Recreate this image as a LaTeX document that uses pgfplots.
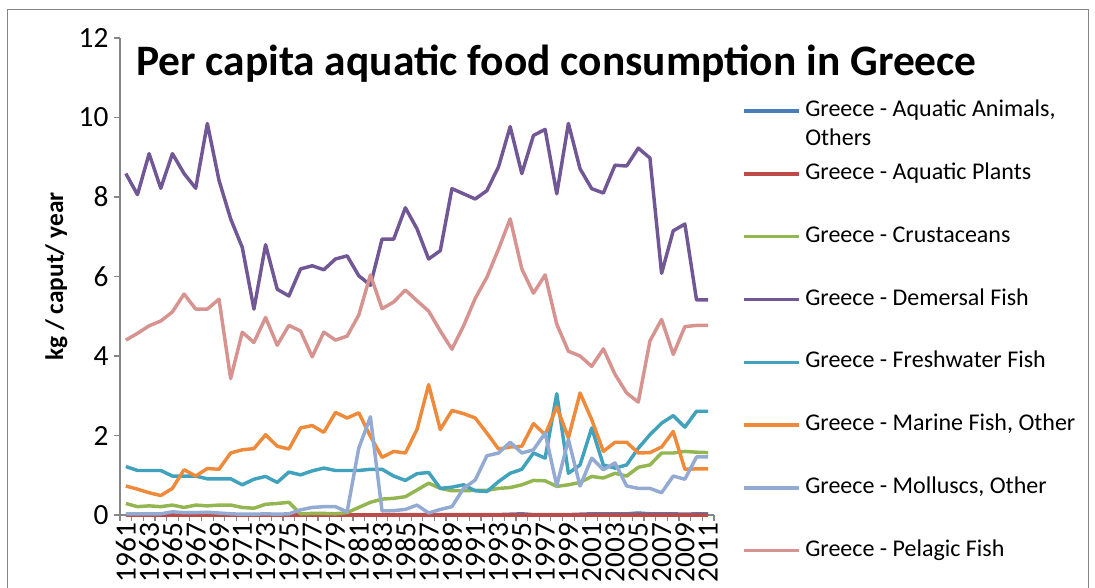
\documentclass[border=0pt]{standalone}
\usepackage{fontspec}
\setmainfont{Carlito}
\usepackage{pgfplots}
\usepackage{pgfplotstable}
\pgfplotsset{compat=1.18}

\definecolor{cAnim}{HTML}{4A7EBB}
\definecolor{cPlant}{HTML}{BE4B48}
\definecolor{cCrust}{HTML}{93B651}
\definecolor{cDem}{HTML}{715796}
\definecolor{cFresh}{HTML}{40A2BD}
\definecolor{cMarine}{HTML}{EE8A3A}
\definecolor{cMoll}{HTML}{93AAD3}
\definecolor{cPel}{HTML}{D69390}
\definecolor{axgray}{HTML}{868686}

% kg / caput / year
\pgfplotstableread{
year anim plant crust dem fresh marine moll pel
1961 0    0 0.29 8.59 1.22 0.73 0.03 4.40
1962 0    0 0.21 8.06 1.12 0.65 0.03 4.57
1963 0    0 0.23 9.09 1.12 0.56 0.03 4.76
1964 0    0 0.21 8.22 1.12 0.49 0.03 4.88
1965 0    0 0.25 9.09 0.98 0.67 0.08 5.11
1966 0    0 0.19 8.59 0.98 1.14 0.06 5.56
1967 0    0 0.25 8.22 0.98 0.98 0.06 5.18
1968 0    0 0.23 9.85 0.91 1.17 0.07 5.18
1969 0    0 0.25 8.42 0.91 1.15 0.05 5.43
1970 0    0 0.25 7.45 0.91 1.56 0.03 3.43
1971 0    0 0.19 6.73 0.76 1.64 0.02 4.60
1972 0    0 0.17 5.18 0.90 1.67 0.02 4.34
1973 0    0 0.27 6.80 0.97 2.02 0.03 4.97
1974 0    0 0.29 5.68 0.82 1.73 0.02 4.27
1975 0    0 0.32 5.51 1.08 1.66 0.03 4.77
1976 0    0 0.03 6.19 1.01 2.19 0.13 4.63
1977 0    0 0.04 6.27 1.11 2.25 0.19 3.98
1978 0    0 0.04 6.17 1.18 2.08 0.21 4.60
1979 0    0 0.03 6.44 1.12 2.58 0.21 4.40
1980 0    0 0.06 6.52 1.12 2.44 0.08 4.50
1981 0    0 0.19 6.02 1.12 2.57 1.68 5.03
1982 0    0 0.32 5.78 1.15 1.98 2.47 6.04
1983 0    0 0.40 6.94 1.15 1.45 0.10 5.19
1984 0.01 0 0.42 6.94 0.98 1.60 0.11 5.36
1985 0.01 0 0.46 7.73 0.87 1.56 0.14 5.66
1986 0.01 0 0.63 7.20 1.04 2.15 0.25 5.39
1987 0.01 0 0.80 6.44 1.07 3.28 0.05 5.13
1988 0.01 0 0.67 6.65 0.67 2.15 0.14 4.63
1989 0.01 0 0.61 8.21 0.70 2.63 0.21 4.17
1990 0.01 0 0.61 8.08 0.76 2.55 0.67 4.76
1991 0.01 0 0.62 7.95 0.61 2.44 0.88 5.45
1992 0.01 0 0.62 8.16 0.59 2.06 1.49 5.98
1993 0.01 0 0.67 8.76 0.84 1.66 1.56 6.69
1994 0.02 0 0.69 9.77 1.05 1.71 1.83 7.45
1995 0.03 0 0.76 8.59 1.15 1.73 1.56 6.19
1996 0.01 0 0.87 9.55 1.56 2.30 1.64 5.58
1997 0.01 0 0.86 9.70 1.43 2.02 2.06 6.04
1998 0.01 0 0.72 8.08 3.05 2.72 0.74 4.80
1999 0.01 0 0.76 9.85 1.05 1.94 1.90 4.12
2000 0.02 0 0.82 8.71 1.26 3.07 0.73 4.00
2001 0.03 0 0.97 8.21 2.19 2.40 1.43 3.74
2002 0.03 0 0.93 8.10 1.26 1.60 1.14 4.18
2003 0.03 0 1.05 8.80 1.18 1.83 1.31 3.54
2004 0.03 0 0.98 8.78 1.26 1.83 0.73 3.07
2005 0.05 0 1.20 9.23 1.68 1.56 0.67 2.84
2006 0.03 0 1.26 8.98 2.02 1.57 0.67 4.38
2007 0.03 0 1.56 6.08 2.31 1.71 0.56 4.92
2008 0.03 0 1.56 7.15 2.50 2.10 0.98 4.04
2009 0.02 0 1.60 7.32 2.21 1.15 0.90 4.74
2010 0.03 0 1.58 5.41 2.61 1.16 1.46 4.77
2011 0.03 0 1.57 5.41 2.61 1.16 1.46 4.77
}\fishdata

\begin{document}
\begin{tikzpicture}
\path[use as bounding box] (0,0) rectangle (821.25pt,440.25pt);
\draw[axgray, line width=0.75pt] (5.25pt,-5pt) rectangle (816pt,432.75pt);

\node[anchor=base west, font=\bfseries\fontsize{32.6}{36}\selectfont] at (98.5pt,384pt)
  {Per capita aquatic food consumption in Greece};

\begin{axis}[
  at={(90pt,54pt)}, anchor=south west,
  width=445.5pt, height=357.75pt, scale only axis,
  xmin=1960.5, xmax=2011.5, ymin=0, ymax=12,
  axis x line*=bottom, axis y line*=left,
  axis line style={axgray, line width=0.9pt, -},
  tick style={axgray, line width=0.9pt},
  tick align=outside,
  xtick={1961,1963,...,2011},
  minor xtick={1960.5,1961.5,...,2011.5},
  major x tick style={draw=none},
  minor tick length=4.5pt,
  ytick={0,2,...,12},
  major tick length=4.5pt,
  ticklabel style={font=\fontsize{22}{24}\selectfont},
  /pgf/number format/assume math mode=true,
  /pgf/number format/1000 sep={},
  xticklabel style={rotate=90, anchor=east, inner sep=1pt},
  yticklabel style={inner sep=4pt},
  ylabel={kg / caput/ year},
  ylabel style={font=\bfseries\fontsize{19}{21}\selectfont, at={(rel axis cs:-0.107,0.5)}, anchor=center},
  clip=false,
  every axis plot/.append style={line width=2.6pt, line join=round},
  legend style={at={(rel axis cs:1.047,0.869)}, anchor=north west, draw=none, fill=none,
    inner sep=0pt, row sep=31.6pt, column sep=3.5pt,
    font=\fontsize{18}{21.75}\selectfont,
    nodes={inner sep=0pt, text height=12pt, text depth=3.5pt}},
  legend cell align=left,
  legend image code/.code={\draw[#1] (0pt,0pt) -- (41.25pt,0pt);},
]
\addplot[cAnim]   table[x=year, y=anim]   {\fishdata};
\addplot[cPlant]  table[x=year, y=plant]  {\fishdata};
\addplot[cCrust]  table[x=year, y=crust]  {\fishdata};
\addplot[cDem]    table[x=year, y=dem]    {\fishdata};
\addplot[cFresh]  table[x=year, y=fresh]  {\fishdata};
\addplot[cMarine] table[x=year, y=marine] {\fishdata};
\addplot[cMoll]   table[x=year, y=moll]   {\fishdata};
\addplot[cPel]    table[x=year, y=pel]    {\fishdata};
\legend{\smash{\begin{tabular}[t]{@{}l@{}}Greece - Aquatic Animals,\\Others\end{tabular}},
  Greece - Aquatic Plants, Greece - Crustaceans, Greece - Demersal Fish,
  Greece - Freshwater Fish, {Greece - Marine Fish, Other}, {Greece - Molluscs, Other},
  Greece - Pelagic Fish}
\end{axis}
\end{tikzpicture}
\end{document}
